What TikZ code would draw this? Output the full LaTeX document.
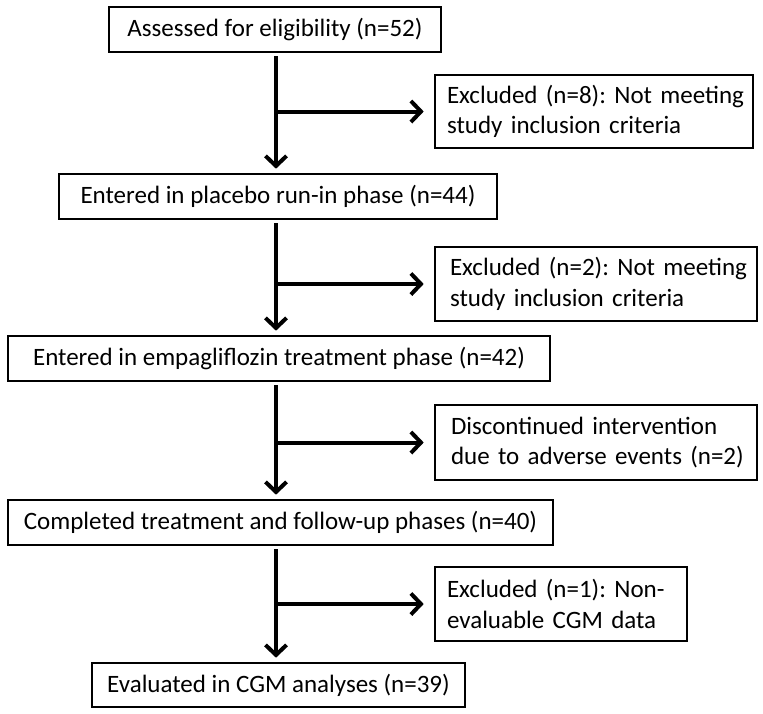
\documentclass[tikz,border=0pt]{standalone}
\usepackage{fontspec}
\setmainfont{Carlito}
\usetikzlibrary{arrows.meta}
\frenchspacing
\begin{document}
\begin{tikzpicture}[x=1pt,y=-1pt,
  mainbox/.style={draw, line width=2.6pt, minimum height=45pt, inner sep=0pt,
    font=\fontsize{25}{30.5}\selectfont},
  sidebox/.style={draw, line width=2.6pt, inner sep=0pt, align=left,
    font=\fontsize{25}{30.5}\selectfont},
  arr/.style={line width=4pt, -{Straight Barb[length=10pt,width=21pt]}},
]
\useasboundingbox (0,0) rectangle (763,713);

% main column
\node[mainbox, minimum width=332pt] (b1) at (275,29.5) {Assessed for eligibility (n=52)};
\node[mainbox, minimum width=438pt] (b2) at (278,196.5) {Entered in placebo run-in phase (n=44)};
\node[mainbox, minimum width=542pt] (b3) at (279,358.5) {Entered in empagliflozin treatment phase (n=42)};
\node[mainbox, minimum width=545pt] (b4) at (280.5,522.5) {Completed treatment and follow-up phases (n=40)};
\node[mainbox, minimum width=373pt, minimum height=44pt] (b5) at (278.5,685) {Evaluated in CGM analyses (n=39)};

% side boxes
\node[sidebox, minimum width=318pt, minimum height=73pt, text width=294pt] (e1) at (594,111.5)
  {\mbox{Excluded (n=8): Not meeting}\\\mbox{study inclusion criteria}};
\node[sidebox, minimum width=322pt, minimum height=74pt, text width=292pt] (e2) at (596,284)
  {\mbox{Excluded (n=2): Not meeting}\\\mbox{study inclusion criteria}};
\node[sidebox, minimum width=322pt, minimum height=75pt, text width=290pt] (e3) at (596,442.5)
  {\mbox{Discontinued intervention}\\\mbox{due to adverse events (n=2)}};
\node[sidebox, minimum width=252pt, minimum height=74pt, text width=228pt] (e4) at (561,604)
  {\mbox{Excluded (n=1): Non-}\\\mbox{evaluable CGM data}};

\coordinate (ax) at (276,0);

\draw[arr, shorten <=3pt, shorten >=4pt] (ax |- b1.south) -- (ax |- b2.north);
\draw[arr, shorten <=3pt, shorten >=4pt] (ax |- b2.south) -- (ax |- b3.north);
\draw[arr, shorten <=3pt, shorten >=4pt] (ax |- b3.south) -- (ax |- b4.north);
\draw[arr, shorten <=3pt, shorten >=4pt] (ax |- b4.south) -- (ax |- b5.north);

\draw[arr, shorten >=10pt] (ax |- e1.west) -- (e1.west);
\draw[arr, shorten >=10pt] (ax |- e2.west) -- (e2.west);
\draw[arr, shorten >=10pt] (ax |- e3.west) -- (e3.west);
\draw[arr, shorten >=10pt] (ax |- e4.west) -- (e4.west);
\end{tikzpicture}
\end{document}
